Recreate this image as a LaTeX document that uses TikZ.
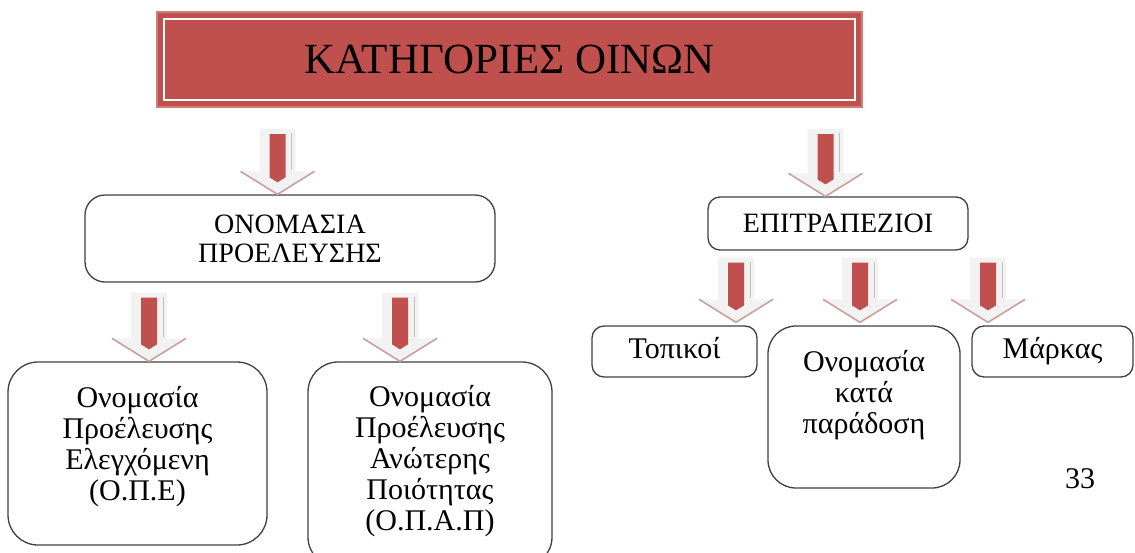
\documentclass[tikz,border=0pt]{standalone}
\usepackage{fontspec}
\setmainfont{Liberation Serif}
\usetikzlibrary{calc}
\definecolor{winered}{HTML}{C0504D}
\definecolor{headedge}{HTML}{C9A0A0}
\tikzset{
  box/.style={draw=black!75, line width=1.3pt, fill=white, align=center, inner sep=0pt},
  boxtext/.style={font=\fontsize{30}{31}\selectfont},
  oneline/.style={text height=20pt, text depth=7pt},
  arrowbody/.style={fill=black!5},
  arrowedge/.style={draw=headedge, line width=1.6pt, line join=round},
  arrowside/.style={draw=black!25, line width=0.8pt}
}
\newcommand\flowarrow[2]{%
  \fill[arrowbody] ($(#1)+(-18,0)$) -- ($(#1)+(18,0)$) -- ($(#2)+(18,-23)$) -- ($(#2)+(37,-23)$)
    -- (#2) -- ($(#2)+(-37,-23)$) -- ($(#2)+(-18,-23)$) -- cycle;
  \draw[arrowedge] ($(#2)+(-37,-23)$) -- (#2) -- ($(#2)+(37,-23)$);
  \draw[arrowside] ($(#1)+(14,4)$) -- ($(#2)+(14,-24)$);
  \fill[winered] ($(#1)+(-8,5)$) -- ($(#1)+(8,5)$) -- ($(#2)+(8,-17)$) -- ($(#2)+(0,-12)$)
    -- ($(#2)+(-8,-17)$) -- cycle;
}
\begin{document}
\begin{tikzpicture}[x=1pt,y=-1pt]
\useasboundingbox (0,0) rectangle (1135,552);
% title
\node[fill=winered, draw=winered!75, line width=2pt, minimum width=705, minimum height=95,
  font=\fontsize{43}{48}\selectfont] (title) at (509.5,59.5) {ΚΑΤΗΓΟΡΙΕΣ ΟΙΝΩΝ};
\draw[white, line width=1.5pt] ([shift={(8,8)}]title.north west) rectangle ([shift={(-8,-8)}]title.south east);
% second row
\node[box, rounded corners=20pt, minimum width=410, minimum height=87,
  font=\fontsize{28}{29}\selectfont] (onoma) at (290,238.5) {ΟΝΟΜΑΣΙΑ\\ΠΡΟΕΛΕΥΣΗΣ};
\node[box, rounded corners=12pt, minimum width=260, minimum height=53,
  font=\fontsize{28}{32}\selectfont] (epitra) at (838,223.5) {ΕΠΙΤΡΑΠΕΖΙΟΙ};
% third row
\node[box, boxtext, rounded corners=30pt, minimum width=259, minimum height=183]
  (ope) at (137.5,453.5) {Ονομασία\\Προέλευσης\\Ελεγχόμενη\\(Ο.Π.Ε)\\[-10pt]~};
\node[box, boxtext, rounded corners=30pt, minimum width=244, minimum height=205]
  (opap) at (430,464.5) {Ονομασία\\Προέλευσης\\Ανώτερης\\Ποιότητας\\(Ο.Π.Α.Π)\\[-17pt]~};
\node[box, boxtext, oneline, rounded corners=12pt, minimum width=165, minimum height=51]
  (topikoi) at (674.5,351.5) {Τοπικοί};
\node[box, boxtext, rounded corners=28pt, minimum width=192, minimum height=162]
  (paradosi) at (864,407) {Ονομασία\\κατά\\παράδοση\\~};
\node[box, boxtext, oneline, rounded corners=12pt, minimum width=161, minimum height=51]
  (markas) at (1052.5,351.5) {Μάρκας};
\node[boxtext] (page) at (1080,479) {33};
% arrows
\coordinate (t1) at ($(title.south)+(-232,21)$);
\coordinate (h1) at (t1 |- onoma.north);
\coordinate (t2) at ($(title.south)+(316,21)$);
\coordinate (h2) at (t2 |- epitra.north);
\coordinate (t3) at ($(onoma.south)+(-141,10)$);
\coordinate (h3) at (t3 |- ope.north);
\coordinate (t4) at ($(onoma.south)+(110,10)$);
\coordinate (h4) at (t4 |- opap.north);
\coordinate (t5) at ($(epitra.south)+(-102,7)$);
\coordinate (h5) at ($(t5 |- topikoi.north)+(0,-3)$);
\coordinate (t6) at ($(epitra.south)+(22,7)$);
\coordinate (h6) at ($(t6 |- paradosi.north)+(0,-3)$);
\coordinate (t7) at ($(epitra.south)+(150,7)$);
\coordinate (h7) at ($(t7 |- markas.north)+(0,-3)$);
\foreach \t/\h in {t1/h1,t2/h2,t3/h3,t4/h4,t5/h5,t6/h6,t7/h7}
	\flowarrow{\t}{\h};
\end{tikzpicture}
\end{document}
